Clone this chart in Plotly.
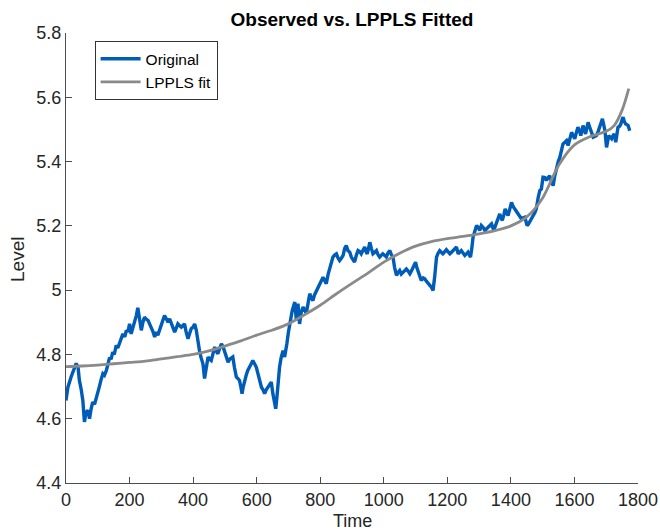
import plotly.graph_objects as go

# Observed series (time index, level)
time_obs = [0, 6, 16, 24, 32, 38, 42, 48, 53, 58, 63, 69, 74, 79, 84, 90, 95, 105, 110, 116, 121, 127, 132, 137, 142, 147, 152, 158, 163, 168, 174, 179, 185, 190, 195, 200, 205, 210, 216, 221, 226, 231, 237, 242, 247, 252, 258, 263, 268, 274, 279, 284, 289, 295, 300, 305, 310, 316, 321, 326, 331, 336, 342, 347, 352, 357, 363, 368, 373, 378, 384, 389, 394, 400, 405, 410, 415, 420, 425, 431, 436, 441, 447, 452, 457, 462, 468, 473, 478, 484, 489, 494, 499, 505, 510, 515, 520, 525, 530, 536, 541, 546, 550, 554, 558, 562, 567, 572, 578, 583, 588, 594, 599, 604, 609, 615, 620, 625, 630, 635, 641, 646, 651, 655, 660, 664, 667, 672, 677, 683, 688, 692, 695, 700, 704, 708, 712, 716, 720, 725, 730, 735, 740, 746, 751, 756, 762, 767, 772, 777, 782, 788, 793, 798, 804, 809, 814, 819, 825, 830, 835, 840, 846, 851, 856, 861, 867, 872, 877, 882, 887, 893, 898, 903, 908, 914, 919, 924, 929, 935, 940, 944, 948, 952, 956, 961, 966, 972, 977, 982, 987, 992, 997, 1003, 1008, 1013, 1019, 1024, 1029, 1034, 1040, 1045, 1050, 1055, 1060, 1066, 1071, 1076, 1082, 1087, 1092, 1100, 1104, 1108, 1113, 1118, 1124, 1129, 1134, 1139, 1145, 1150, 1155, 1160, 1166, 1171, 1176, 1181, 1186, 1192, 1197, 1202, 1208, 1213, 1218, 1224, 1229, 1234, 1239, 1244, 1250, 1255, 1260, 1265, 1269, 1273, 1277, 1281, 1287, 1292, 1297, 1302, 1307, 1313, 1318, 1323, 1328, 1334, 1339, 1346, 1351, 1356, 1361, 1365, 1369, 1373, 1378, 1382, 1387, 1391, 1396, 1402, 1407, 1412, 1418, 1423, 1428, 1433, 1439, 1444, 1448, 1451, 1455, 1459, 1465, 1470, 1475, 1480, 1486, 1491, 1496, 1501, 1507, 1512, 1517, 1522, 1527, 1533, 1538, 1543, 1549, 1554, 1559, 1564, 1570, 1575, 1580, 1585, 1591, 1596, 1601, 1606, 1611, 1616, 1620, 1627, 1631, 1635, 1639, 1643, 1647, 1651, 1655, 1659, 1664, 1669, 1675, 1680, 1684, 1688, 1692, 1696, 1701, 1705, 1708, 1713, 1717, 1721, 1725, 1730, 1734, 1737, 1742, 1746, 1750, 1753, 1757, 1761, 1765, 1769, 1774]
level_obs = [4.657, 4.698, 4.73, 4.75, 4.772, 4.76, 4.72, 4.69, 4.657, 4.59, 4.62, 4.626, 4.60, 4.63, 4.652, 4.645, 4.667, 4.70, 4.72, 4.74, 4.735, 4.75, 4.77, 4.79, 4.785, 4.807, 4.80, 4.828, 4.82, 4.833, 4.845, 4.864, 4.855, 4.875, 4.87, 4.895, 4.864, 4.88, 4.895, 4.92, 4.945, 4.906, 4.875, 4.90, 4.916, 4.91, 4.906, 4.895, 4.885, 4.87, 4.854, 4.87, 4.86, 4.88, 4.89, 4.905, 4.921, 4.91, 4.90, 4.911, 4.895, 4.885, 4.869, 4.88, 4.895, 4.89, 4.885, 4.89, 4.895, 4.87, 4.849, 4.865, 4.88, 4.885, 4.895, 4.875, 4.84, 4.812, 4.79, 4.771, 4.725, 4.76, 4.792, 4.785, 4.781, 4.80, 4.823, 4.81, 4.802, 4.82, 4.833, 4.825, 4.812, 4.79, 4.776, 4.785, 4.79, 4.792, 4.76, 4.73, 4.725, 4.719, 4.70, 4.678, 4.70, 4.719, 4.735, 4.75, 4.765, 4.771, 4.781, 4.77, 4.76, 4.74, 4.72, 4.698, 4.69, 4.678, 4.69, 4.698, 4.705, 4.714, 4.678, 4.66, 4.631, 4.67, 4.709, 4.76, 4.79, 4.812, 4.792, 4.81, 4.833, 4.87, 4.895, 4.92, 4.937, 4.95, 4.963, 4.906, 4.958, 4.895, 4.93, 4.947, 4.94, 4.927, 4.96, 4.989, 4.975, 4.968, 4.985, 4.999, 5.01, 5.02, 5.03, 5.04, 5.03, 5.02, 5.05, 5.071, 5.09, 5.103, 5.11, 5.113, 5.10, 5.092, 5.10, 5.108, 5.13, 5.139, 5.123, 5.118, 5.103, 5.092, 5.087, 5.11, 5.123, 5.12, 5.113, 5.125, 5.134, 5.12, 5.113, 5.13, 5.149, 5.13, 5.113, 5.118, 5.123, 5.11, 5.103, 5.108, 5.113, 5.108, 5.103, 5.115, 5.123, 5.11, 5.103, 5.071, 5.046, 5.055, 5.061, 5.05, 5.056, 5.06, 5.066, 5.06, 5.051, 5.06, 5.071, 5.087, 5.07, 5.056, 5.04, 5.030, 5.038, 5.035, 5.028, 5.02, 5.015, 5.009, 4.999, 5.04, 5.103, 5.115, 5.123, 5.118, 5.113, 5.12, 5.126, 5.12, 5.113, 5.118, 5.123, 5.128, 5.134, 5.113, 5.12, 5.123, 5.115, 5.108, 5.113, 5.118, 5.11, 5.103, 5.13, 5.165, 5.185, 5.201, 5.195, 5.186, 5.201, 5.195, 5.186, 5.19, 5.196, 5.20, 5.206, 5.186, 5.20, 5.217, 5.23, 5.237, 5.225, 5.217, 5.235, 5.253, 5.24, 5.232, 5.25, 5.273, 5.26, 5.253, 5.245, 5.237, 5.23, 5.222, 5.225, 5.227, 5.212, 5.201, 5.205, 5.211, 5.22, 5.232, 5.24, 5.253, 5.289, 5.31, 5.315, 5.351, 5.35, 5.341, 5.35, 5.356, 5.34, 5.325, 5.355, 5.382, 5.40, 5.413, 5.435, 5.455, 5.46, 5.465, 5.45, 5.47, 5.491, 5.48, 5.471, 5.49, 5.507, 5.495, 5.481, 5.512, 5.50, 5.486, 5.505, 5.522, 5.51, 5.496, 5.485, 5.476, 5.478, 5.481, 5.495, 5.507, 5.52, 5.533, 5.515, 5.496, 5.444, 5.465, 5.481, 5.475, 5.471, 5.48, 5.486, 5.46, 5.49, 5.507, 5.51, 5.517, 5.53, 5.538, 5.525, 5.517, 5.515, 5.512, 5.496]

# LPPLS fitted curve
time_fit = [0, 50, 100, 150, 200, 250, 300, 350, 400, 450, 500, 550, 600, 650, 700, 750, 800, 850, 900, 950, 1000, 1050, 1100, 1150, 1200, 1250, 1300, 1350, 1400, 1450, 1500, 1550, 1600, 1650, 1700, 1725, 1750, 1771]
level_fit = [4.762, 4.764, 4.767, 4.771, 4.775, 4.779, 4.786, 4.793, 4.800, 4.811, 4.826, 4.842, 4.860, 4.876, 4.895, 4.923, 4.953, 4.988, 5.021, 5.053, 5.087, 5.115, 5.137, 5.151, 5.160, 5.167, 5.175, 5.185, 5.200, 5.228, 5.287, 5.388, 5.452, 5.478, 5.494, 5.512, 5.560, 5.627]

x_ticks = [0, 200, 400, 600, 800, 1000, 1200, 1400, 1600, 1800]
y_ticks = [4.4, 4.6, 4.8, 5.0, 5.2, 5.4, 5.6, 5.8]
y_tick_labels = ["4.4", "4.6", "4.8", "5", "5.2", "5.4", "5.6", "5.8"]

FONT = "Liberation Sans, Arial, Helvetica, sans-serif"
AX = "#4d4d4d"
TXT = "#262626"

fig = go.Figure()
fig.add_trace(go.Scatter(x=time_obs, y=level_obs, mode="lines", name="Original",
                         line=dict(color="#005cb9", width=3.4)))
fig.add_trace(go.Scatter(x=time_fit, y=level_fit, mode="lines", name="LPPLS fit",
                         line=dict(color="#8a8a8a", width=2.8, shape="spline", smoothing=0.8)))

fig.update_layout(
    width=660, height=532,
    margin=dict(l=66, r=22, t=33, b=49),
    paper_bgcolor="white", plot_bgcolor="white",
    font=dict(family=FONT, size=18, color=TXT),
    title=dict(text="<b>Observed vs. LPPLS Fitted</b>", x=352 / 660, xanchor="center",
               y=1 - 19 / 532, yanchor="middle", font=dict(size=19, color="#000000")),
    showlegend=True,
    legend=dict(x=0.05, y=0.982, xanchor="left", yanchor="top",
                bgcolor="white", bordercolor="#333333", borderwidth=1,
                font=dict(size=15.5, color="#000000"), tracegroupgap=0,
                itemwidth=40),
    xaxis=dict(range=[0, 1800], tickvals=x_ticks, ticks="inside", ticklen=6,
               tickcolor=AX, showline=True, linecolor=AX, linewidth=1,
               showgrid=False, zeroline=False, automargin=False,
               tickfont=dict(size=18, color=TXT)),
    yaxis=dict(range=[4.4, 5.8], tickvals=y_ticks, ticktext=y_tick_labels,
               ticks="inside", ticklen=6,
               tickcolor=AX, showline=True, linecolor=AX, linewidth=1,
               showgrid=False, zeroline=False, automargin=False,
               tickfont=dict(size=18, color=TXT)),
    annotations=[
        dict(text="Time", xref="paper", yref="paper", x=0.5, y=(483 - 521) / 450,
             xanchor="center", yanchor="middle", showarrow=False,
             font=dict(size=18, color=TXT)),
        dict(text="Level", xref="paper", yref="paper", x=(17 - 66) / 572, y=(483 - 260) / 450,
             xanchor="center", yanchor="middle", showarrow=False, textangle=-90,
             font=dict(size=19, color=TXT)),
    ],
)

fig.write_html("out.html", config={"displayModeBar": False},
               post_script="document.body.style.margin='0';document.body.style.overflow='hidden';")
